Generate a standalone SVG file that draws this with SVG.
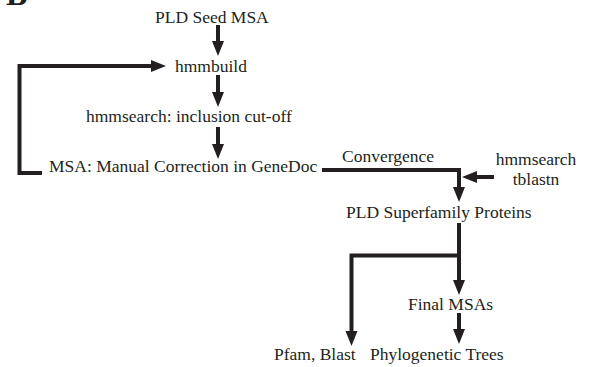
<svg xmlns="http://www.w3.org/2000/svg" width="591" height="367" viewBox="0 0 591 367">
<style>
text{font-family:"Liberation Serif","Times New Roman",serif;font-size:17.5px;fill:#231f20}
.c{fill:none;stroke:#231f20;stroke-width:4;stroke-linejoin:miter}
.lbl{font-weight:bold;font-size:32px}
</style>
<defs>
<marker id="ah" markerUnits="userSpaceOnUse" markerWidth="16" markerHeight="12" refX="2" refY="6" orient="auto" overflow="visible">
<path d="M0,0 L15,6 L0,12 z" fill="#231f20"/>
</marker>
</defs>
<rect width="591" height="367" fill="#fff"/>
<text class="lbl" x="6" y="5">B</text>
<g id="connectors">
<path class="c" d="M218,25 V43" marker-end="url(#ah)"/>
<path class="c" d="M218,75 V94" marker-end="url(#ah)"/>
<path class="c" d="M218,127 V146" marker-end="url(#ah)"/>
<path class="c" d="M42,173 H19.5 V66 H153" marker-end="url(#ah)"/>
<path class="c" d="M322,170 H459 V189" marker-end="url(#ah)"/>
<path class="c" d="M494,177 H475" marker-end="url(#ah)"/>
<path class="c" d="M459,223 V282" marker-end="url(#ah)"/>
<path class="c" d="M459,255.5 H351.5 V333" marker-end="url(#ah)"/>
<path class="c" d="M459,313 V331" marker-end="url(#ah)"/>
</g>
<g id="seed"><text x="155" y="23">PLD Seed MSA</text></g>
<g id="hmmbuild"><text x="175" y="72">hmmbuild</text></g>
<g id="hmmsearch"><text x="86" y="122">hmmsearch: inclusion cut-off</text></g>
<g id="msa"><text x="49" y="172">MSA: Manual Correction in GeneDoc</text></g>
<g id="convergence"><text x="342" y="162">Convergence</text></g>
<g id="search-tools"><text x="536" y="165" text-anchor="middle">hmmsearch</text><text x="536" y="185" text-anchor="middle">tblastn</text></g>
<g id="superfamily"><text x="346" y="218">PLD Superfamily Proteins</text></g>
<g id="final-msas"><text x="408" y="310">Final MSAs</text></g>
<g id="pfam"><text x="274" y="360">Pfam, Blast</text></g>
<g id="trees"><text x="370" y="360">Phylogenetic Trees</text></g>
</svg>
